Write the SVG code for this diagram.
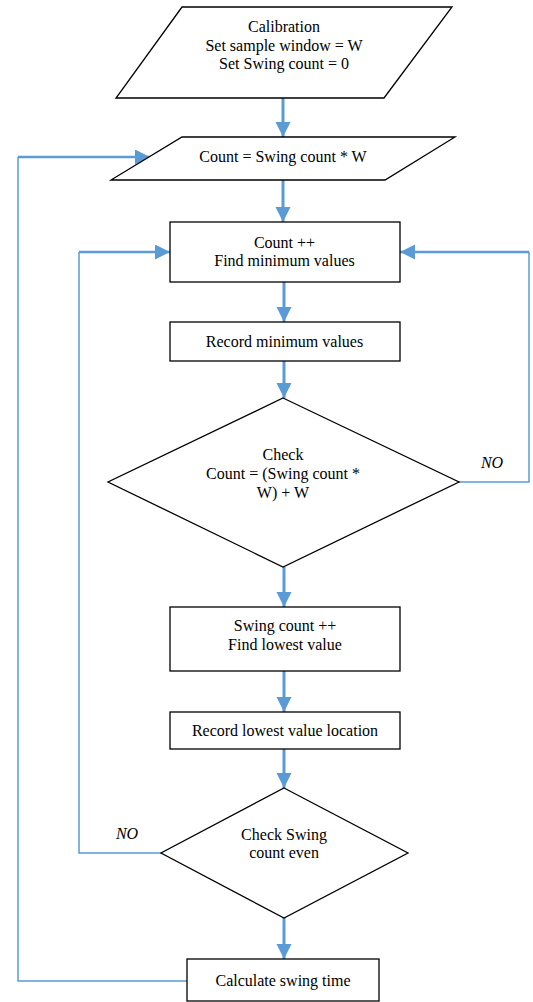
<svg xmlns="http://www.w3.org/2000/svg" width="533" height="1002" viewBox="0 0 533 1002">
<style>
.shape{fill:#fff;stroke:#000;stroke-width:1.3}
.t{font-family:"Liberation Serif","Times New Roman",serif;font-size:16px;fill:#000;text-anchor:middle}
.lbl{font-family:"Liberation Serif","Times New Roman",serif;font-size:16px;font-style:italic;fill:#000;text-anchor:middle}
.main{fill:none;stroke:#5B9BD5;stroke-width:3}
.thin{fill:none;stroke:#5B9BD5;stroke-width:1.5}
.ent{fill:none;stroke:#5B9BD5;stroke-width:2.5}
</style>
<defs>
<marker id="ah" markerUnits="userSpaceOnUse" markerWidth="16" markerHeight="16" refX="15" refY="7.5" orient="auto">
<path d="M0,0 L15,7.5 L0,15 z" fill="#5B9BD5"/>
</marker>
</defs>
<rect width="533" height="1002" fill="#fff"/>
<g id="connectors">
<line class="main" x1="283" y1="98" x2="283" y2="137" marker-end="url(#ah)"/>
<line class="main" x1="283" y1="180" x2="283" y2="222" marker-end="url(#ah)"/>
<line class="main" x1="284" y1="282" x2="284" y2="322" marker-end="url(#ah)"/>
<line class="main" x1="284" y1="361" x2="284" y2="398" marker-end="url(#ah)"/>
<line class="main" x1="284" y1="567" x2="284" y2="607" marker-end="url(#ah)"/>
<line class="main" x1="284" y1="671" x2="284" y2="712" marker-end="url(#ah)"/>
<line class="main" x1="284" y1="749" x2="284" y2="788" marker-end="url(#ah)"/>
<line class="main" x1="284" y1="918" x2="284" y2="959" marker-end="url(#ah)"/>
<polyline class="thin" points="458,482 529,482 529,252"/>
<line class="ent" x1="529" y1="252" x2="400" y2="252" marker-end="url(#ah)"/>
<polyline class="thin" points="161,853 79,853 79,252"/>
<line class="ent" x1="79" y1="252" x2="170" y2="252" marker-end="url(#ah)"/>
<polyline class="thin" points="187,981 18,981 18,157"/>
<line class="ent" x1="18" y1="157" x2="150" y2="157" marker-end="url(#ah)"/>
<text class="lbl" x="492" y="468">NO</text>
<text class="lbl" x="127" y="839">NO</text>
</g>
<g id="calibration">
<polygon class="shape" points="182,7 452,7 384,98 116,98"/>
<text class="t" x="284" y="32">Calibration</text>
<text class="t" x="284" y="51">Set sample window = W</text>
<text class="t" x="284" y="69">Set Swing count = 0</text>
</g>
<g id="count-init">
<polygon class="shape" points="182,137 455,137 385,180 111,180"/>
<text class="t" x="283" y="162">Count = Swing count * W</text>
</g>
<g id="count-inc">
<rect class="shape" x="170" y="222" width="230" height="60"/>
<text class="t" x="284.5" y="247.5">Count ++</text>
<text class="t" x="284.5" y="265.5">Find minimum values</text>
</g>
<g id="record-min">
<rect class="shape" x="170" y="322" width="230" height="39"/>
<text class="t" x="284.5" y="347">Record minimum values</text>
</g>
<g id="check-count">
<polygon class="shape" points="283,398 459,482 283,567 108,482"/>
<text class="t" x="283" y="459.5">Check</text>
<text class="t" x="283" y="479">Count = (Swing count *</text>
<text class="t" x="283" y="498">W) + W</text>
</g>
<g id="swing-inc">
<rect class="shape" x="170" y="607" width="230" height="64"/>
<text class="t" x="285" y="631">Swing count ++</text>
<text class="t" x="285" y="650">Find lowest value</text>
</g>
<g id="record-lowest">
<rect class="shape" x="170" y="712" width="230" height="37"/>
<text class="t" x="285" y="736">Record lowest value location</text>
</g>
<g id="check-even">
<polygon class="shape" points="284,788 408,853 284,918 161,853"/>
<text class="t" x="284" y="839.5">Check Swing</text>
<text class="t" x="284" y="858">count even</text>
</g>
<g id="calc-time">
<rect class="shape" x="187" y="959" width="192" height="42"/>
<text class="t" x="283" y="986">Calculate swing time</text>
</g>
</svg>
